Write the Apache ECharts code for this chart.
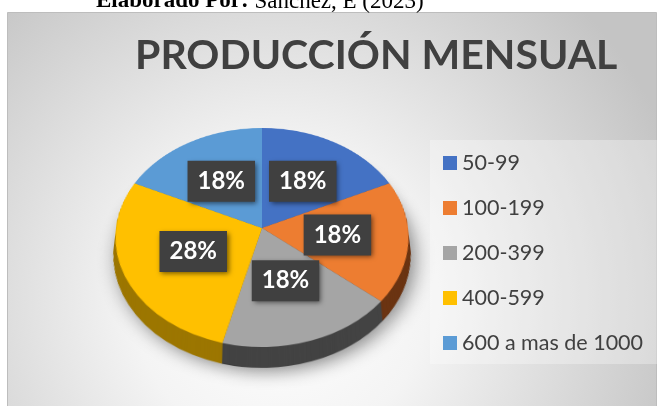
<!DOCTYPE html>
<html><head><meta charset="utf-8">
<script src="https://cdn.jsdelivr.net/npm/echarts@6/dist/echarts.min.js"></script>
<style>
html,body{margin:0;padding:0;background:#fff;}
#wrap{position:relative;width:659px;height:406px;overflow:hidden;}
#bg,#fg{position:absolute;left:0;top:0;width:659px;height:406px;}
#pieWrap{position:absolute;left:42px;top:8px;width:440px;height:440px;transform-origin:220px 220px;transform:perspective(1124px) rotateX(41.9deg);}
</style></head>
<body><div id="wrap"><div id="bg"></div><div id="pieWrap"></div><div id="fg"></div></div>
<script>
const categories = ['50-99', '100-199', '200-399', '400-599', '600 a mas de 1000'];
const values = [18, 18, 18, 28, 18];
const topColors = ['#4472C4', '#ED7D31', '#A5A5A5', '#FFC000', '#5B9BD5'];
const sideColors = ['#25457e', '#6b3412', '#434343', '#9c7600', '#2f6aa0'];
const titleText = 'PRODUCCIÓN MENSUAL';
const sourceBold = 'Elaborado Por:';
const sourceRest = ' Sanchez, E (2023)';

const pieData = (colors) => categories.map((c, i) => ({
  name: c, value: values[i], itemStyle: { color: colors[i] }
}));

// background layer
const bg = echarts.init(document.getElementById('bg'), null, { renderer: 'canvas' });
bg.setOption({
  backgroundColor: '#ffffff',
  animation: false,
  graphic: [
    {
      type: 'rect', shape: { x: 7.5, y: 12.5, width: 649, height: 400 },
      style: {
        fill: { type: 'radial', x: 280, y: 300, r: 420, global: true,
          colorStops: [{ offset: 0, color: '#ffffff' }, { offset: 0.35, color: '#f4f4f4' }, { offset: 1, color: '#c4c4c4' }] },
        stroke: '#bdbdbd', lineWidth: 1
      }
    },
    {
      type: 'text', x: 96, y: -10,
      style: {
        text: '{b|' + sourceBold + '}' + sourceRest,
        font: '23px "Liberation Serif"', fill: '#000', verticalAlign: 'top',
        rich: { b: { fontWeight: 'bold', fontFamily: 'Liberation Serif', fontSize: 23 } }
      }
    }
  ]
});

// pie (3D look) layer
const pc = echarts.init(document.getElementById('pieWrap'));
const series = [];
const depth = 23;
for (let d = depth; d >= 1; d--) {
  series.push({
    type: 'pie', silent: true, startAngle: 90, clockwise: true,
    center: [220, 220 + d], radius: 146,
    label: { show: false }, labelLine: { show: false },
    itemStyle: d === depth ? { shadowBlur: 18, shadowColor: 'rgba(0,0,0,0.45)', shadowOffsetX: 4, shadowOffsetY: 4 } : {},
    data: pieData(sideColors)
  });
}
series.push({
  type: 'pie', silent: true, startAngle: 90, clockwise: true,
  center: [220, 220], radius: 146,
  label: { show: false }, labelLine: { show: false },
  data: pieData(topColors)
});
pc.setOption({ animation: false, series: series });

// foreground: title, legend, labels
const fg = echarts.init(document.getElementById('fg'));
const lcx = 262, lcy = 228, squash = 0.73;
const clear = categories.map(() => 'rgba(0,0,0,0)');
fg.setOption({
  animation: false,
  title: {
    text: titleText, left: 130, top: 30,
    textStyle: { fontFamily: 'Lato', fontWeight: 'bold', fontSize: 41, color: '#404040' }
  },
  legend: {
    orient: 'vertical', left: 430, top: 140,
    padding: [12, 14, 10, 13],
    backgroundColor: 'rgba(255,255,255,0.3)',
    itemWidth: 14, itemHeight: 14, itemGap: 23, icon: 'rect',
    textStyle: { fontFamily: 'Lato', fontSize: 21.5, lineHeight: 22, color: '#404040' },
    data: categories.map((c, i) => ({ name: c, itemStyle: { color: topColors[i] } }))
  },
  series: [{
    type: 'pie', startAngle: 90, clockwise: true, percentPrecision: 0,
    center: [lcx, lcy], radius: 146,
    labelLine: { show: false },
    label: {
      show: true, position: 'inside', formatter: '{d}%',
      color: '#ffffff', fontFamily: 'Lato', fontWeight: 'bold', fontSize: 24, lineHeight: 25,
      backgroundColor: '#404040', padding: [8, 10],
      shadowColor: 'rgba(0,0,0,0.55)', shadowBlur: 5, shadowOffsetX: 2, shadowOffsetY: 2
    },
    labelLayout: function (p) {
      const r = p.labelRect;
      const x = r.x + r.width / 2, y = r.y + r.height / 2;
      return { x: x, y: lcy + (y - lcy) * squash };
    },
    emphasis: { disabled: true },
    data: pieData(clear)
  }]
});
</script>
</body></html>
